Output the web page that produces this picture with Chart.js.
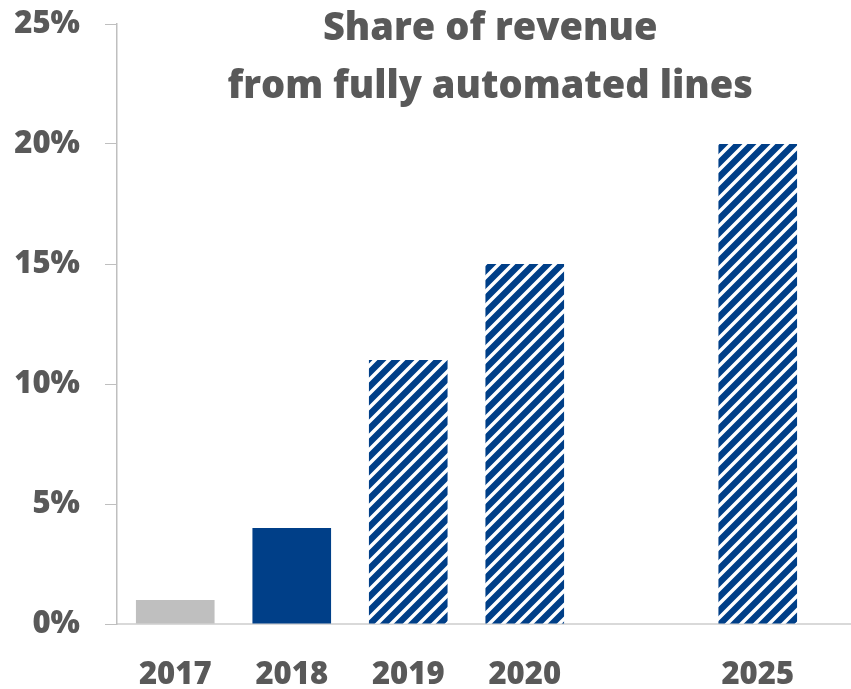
<!DOCTYPE html>
<html>
<head>
<meta charset="utf-8">
<script src="https://cdn.jsdelivr.net/npm/chart.js@4"></script>
<style>
  body { margin: 0; background: #fff; }
</style>
</head>
<body>
<canvas id="myChart" width="851" height="689"></canvas>
<script>
const years = ['2017', '2018', '2019', '2020', '', '2025'];
const shares = [1, 4, 11, 15, null, 20];
const barKinds = ['actual-old', 'actual', 'target', 'target', 'none', 'target'];
const yTicks = [0, 5, 10, 15, 20, 25];
const titleLines = ['Share of revenue', 'from fully automated lines'];

const navy = '#003f88';
const textGray = '#595959';

// diagonal stripe fill for the target bars
function makeStripes() {
  const size = 14;
  const c = document.createElement('canvas');
  c.width = size;
  c.height = size;
  const g = c.getContext('2d');
  g.fillStyle = '#fff';
  g.fillRect(0, 0, size, size);
  g.strokeStyle = navy;
  g.lineWidth = 6.4;
  g.beginPath();
  g.moveTo(-size / 2, size / 2); g.lineTo(size / 2, -size / 2);
  g.moveTo(0, size); g.lineTo(size, 0);
  g.moveTo(size / 2, size * 1.5); g.lineTo(size * 1.5, size / 2);
  g.stroke();
  return g.createPattern(c, 'repeat');
}

const ctx = document.getElementById('myChart').getContext('2d');
const stripes = makeStripes();
const fills = barKinds.map(k => k === 'actual-old' ? '#bfbfbf' : k === 'actual' ? navy : stripes);

// title sits inside the plot, and the baseline runs to the right edge
const extras = {
  id: 'extras',
  afterDraw(chart) {
    const c = chart.ctx;
    const area = chart.chartArea;
    c.save();
    c.strokeStyle = '#d9d9d9';
    c.lineWidth = 2;
    c.beginPath();
    c.moveTo(area.right, area.bottom);
    c.lineTo(chart.width, area.bottom);
    c.stroke();

    c.fillStyle = textGray;
    c.font = '800 38px "Open Sans"';
    c.textAlign = 'center';
    c.textBaseline = 'alphabetic';
    const cx = chart.width * 0.576;
    c.fillText(titleLines[0], cx, area.top + 16);
    c.fillText(titleLines[1], cx, area.top + 74);
    c.restore();
  }
};

new Chart(ctx, {
  type: 'bar',
  data: {
    labels: years,
    datasets: [{
      data: shares,
      backgroundColor: fills,
      borderWidth: 0,
      categoryPercentage: 1,
      barPercentage: 0.675
    }]
  },
  options: {
    responsive: false,
    animation: false,
    layout: { padding: { top: 24, right: 35, bottom: 0, left: 0 } },
    plugins: {
      legend: { display: false },
      tooltip: { enabled: false }
    },
    scales: {
      x: {
        afterFit(scale) {
          scale.height = 65;
          scale.paddingLeft = 0;
          scale.paddingRight = 0;
        },
        grid: { display: false, drawTicks: false },
        border: { color: '#d9d9d9', width: 2 },
        ticks: {
          color: textGray,
          padding: 33,
          font: { family: 'Open Sans', size: 31, weight: 800 }
        }
      },
      y: {
        min: 0,
        max: 25,
        afterBuildTicks(scale) {
          scale.ticks = yTicks.map(v => ({ value: v }));
        },
        afterFit(scale) {
          scale.width = 117;
          scale.paddingTop = 0;
          scale.paddingBottom = 0;
        },
        grid: { drawOnChartArea: false, tickLength: 12, color: '#bfbfbf' },
        border: { color: '#bfbfbf', width: 1.5 },
        ticks: {
          color: textGray,
          padding: 25,
          font: { family: 'Open Sans', size: 31, weight: 800 },
          callback: v => v + '%'
        }
      }
    }
  },
  plugins: [extras]
});
</script>
</body>
</html>
